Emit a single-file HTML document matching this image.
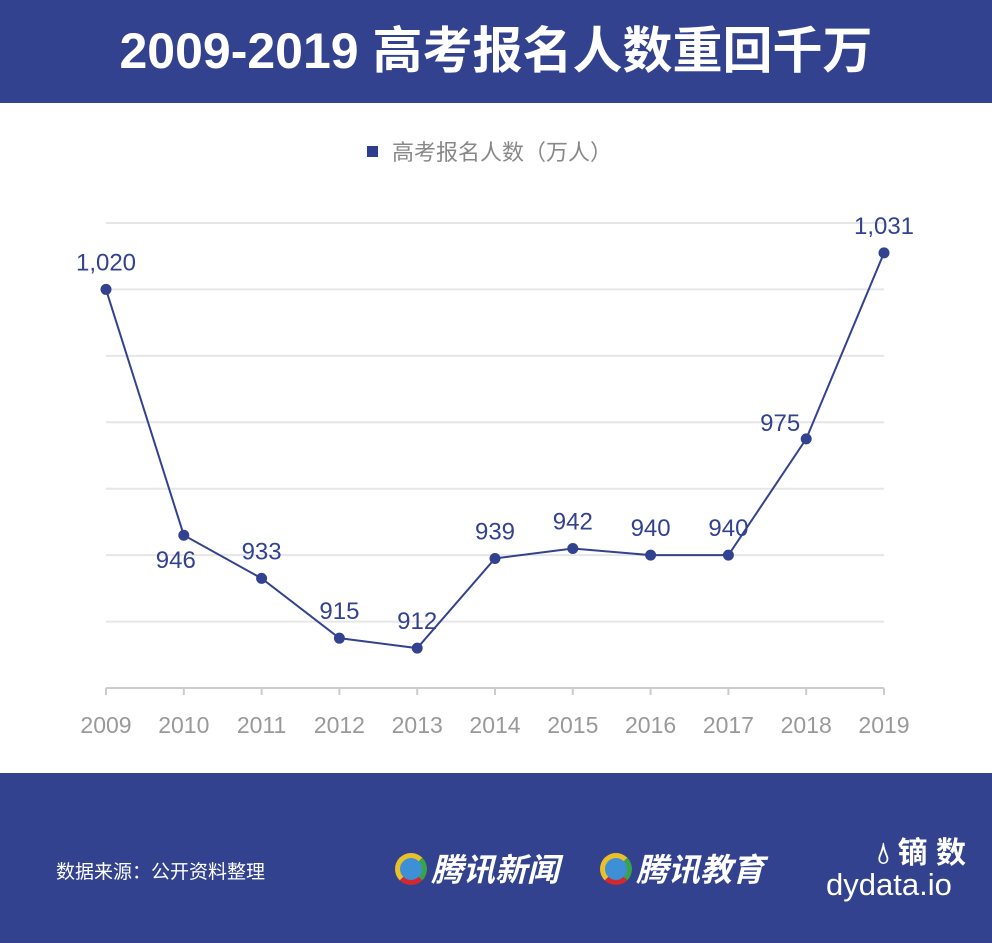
<!DOCTYPE html>
<html><head><meta charset="utf-8"><style>
body{margin:0;width:992px;height:943px;overflow:hidden;background:#fff;font-family:"Liberation Sans","Noto Sans CJK SC",sans-serif}
#hdr{position:absolute;left:0;top:0;width:992px;height:103px;background:#33428f;color:#fff;font-size:50px;font-weight:bold;text-align:center;line-height:103px}
#ftr{position:absolute;left:0;top:773px;width:992px;height:170px;background:#33428f;color:#fff}
svg{position:absolute;left:0;top:103px}
</style></head><body>
<div id="hdr">2009-2019 高考报名人数重回千万</div>
<svg id="chart" width="992" height="670"></svg>
<div id="ftr">
<div style="position:absolute;left:56px;top:84px;font-size:19px">数据来源：公开资料整理</div>
<div style="position:absolute;left:395px;top:72px;font-size:32px;font-style:italic;font-weight:bold"><span style="display:inline-block;width:32px;height:32px;border-radius:50%;border:5px solid #e9c02a;border-right-color:#3aa34a;border-bottom-color:#d3282e;box-sizing:border-box;vertical-align:-4px;margin-right:4px;background:#3d8fd6"></span>腾讯新闻</div>
<div style="position:absolute;left:600px;top:72px;font-size:32px;font-style:italic;font-weight:bold"><span style="display:inline-block;width:32px;height:32px;border-radius:50%;border:5px solid #e9c02a;border-right-color:#3aa34a;border-bottom-color:#d3282e;box-sizing:border-box;vertical-align:-4px;margin-right:4px;background:#3d8fd6"></span>腾讯教育</div>
<div style="position:absolute;left:826px;top:55px;font-size:30px;font-weight:bold;width:140px;text-align:right">&#x1F4A7;&#xFE0E; 镝 数</div>
<div style="position:absolute;left:826px;top:94px;font-size:31px">dydata.io</div>
</div>
<script>
const years=['2009','2010','2011','2012','2013','2014','2015','2016','2017','2018','2019'];
const values=[1020,946,933,915,912,939,942,940,940,975,1031];
const labels=['1,020','946','933','915','912','939','942','940','940','975','1,031'];
const yTicks=[900,920,940,960,980,1000,1020,1040];
const svg=document.getElementById('chart');const NS='http://www.w3.org/2000/svg';
const x=i=>106+i*77.8;const y=v=>585-(v-900)*3.3214;
function mk(t,a){const e=document.createElementNS(NS,t);for(const k in a)e.setAttribute(k,a[k]);svg.appendChild(e);return e;}
let e=mk('rect',{x:367,y:43,width:11,height:11,fill:'#2f3d8f'});

e=mk('text',{x:392,y:57,'font-size':22,fill:'#888'});e.textContent='高考报名人数（万人）';

yTicks.forEach(t=>{const g=mk('line',{x1:106,x2:884,y1:y(t),y2:y(t),stroke:t===900?'#ccc':'#e6e6e6','stroke-width':2});
});
years.forEach((yr,i)=>{const t=mk('line',{x1:x(i),x2:x(i),y1:585,y2:592,stroke:'#ccc','stroke-width':2});

const l=mk('text',{x:x(i),y:630,'font-size':23,fill:'#999','text-anchor':'middle'});l.textContent=yr;
});
const p=mk('polyline',{points:values.map((v,i)=>x(i)+','+y(v)).join(' '),fill:'none',stroke:'#33428f','stroke-width':2});

values.forEach((v,i)=>{const c=mk('circle',{cx:x(i),cy:y(v),r:5.5,fill:'#33428f'});

let lx=x(i),ly=y(v)-19;
if(i===1){lx=x(i)-8;ly=y(v)+33;} if(i===9){lx=x(i)-26;ly=y(v)-8;}
const t=mk('text',{x:lx,y:ly,'font-size':24,fill:'#33428f','text-anchor':'middle'});t.textContent=labels[i];
});
</script>
</body></html>
